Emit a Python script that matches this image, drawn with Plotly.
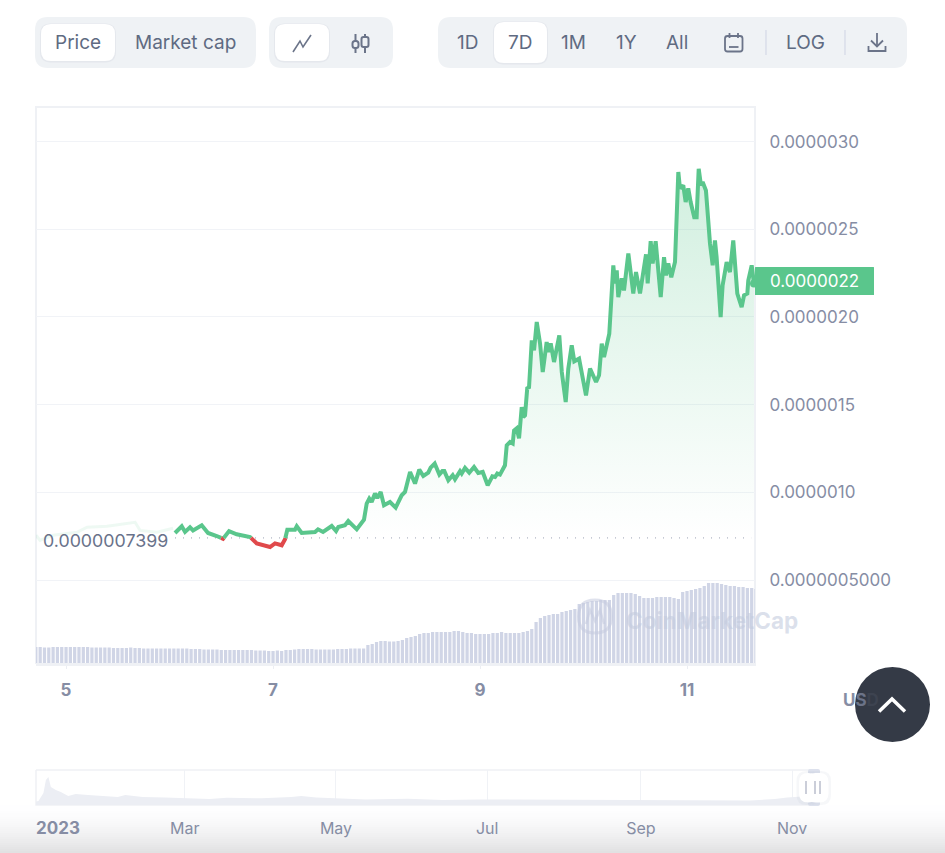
import pandas as pd
import plotly.graph_objects as go

W, H = 945, 853

# ---------- data ----------
faint_day = [4.71, 4.749, 4.797, 4.874, 5.106, 5.203, 5.396, 5.667, 5.715, 5.879, 6.034]
faint_price = [.755, .726, .738, .755, .772, .801, .806, .829, .783, .772, .795]

price_day = [6.053, 6.118, 6.150, 6.198, 6.227, 6.311, 6.372, 6.456, 6.517, 6.575, 6.649, 6.778, 6.843, 6.971, 7.019,
             7.084, 7.116, 7.138, 7.212, 7.229, 7.277, 7.406, 7.435, 7.483, 7.567, 7.609, 7.631, 7.695, 7.727, 7.809, 7.879,
             7.905, 7.930, 7.953, 7.985, 8.008, 8.040, 8.072, 8.130, 8.185, 8.243, 8.275, 8.324, 8.372, 8.413, 8.452,
             8.500, 8.523, 8.562, 8.607, 8.636, 8.655, 8.694, 8.736, 8.758, 8.807, 8.823, 8.855, 8.896, 8.942, 8.983,
             9.026, 9.074, 9.119, 9.145, 9.167, 9.193, 9.241, 9.258, 9.290, 9.316, 9.329,
             9.354, 9.377, 9.403, 9.418, 9.435, 9.457, 9.473, 9.500, 9.522, 9.548, 9.580, 9.606,
             9.644, 9.660, 9.683, 9.715, 9.766, 9.790, 9.828, 9.853, 9.886, 9.911, 9.957, 10.024, 10.063, 10.121, 10.150,
             10.176, 10.198, 10.249, 10.268, 10.288, 10.304, 10.321, 10.336, 10.369, 10.391, 10.433, 10.481, 10.507,
             10.546, 10.604, 10.620, 10.649, 10.668, 10.697, 10.746, 10.778, 10.797, 10.819, 10.848, 10.884, 10.916,
             10.932, 10.964, 10.987, 11.012, 11.035, 11.070, 11.093, 11.113, 11.135, 11.151, 11.183, 11.222, 11.248,
             11.270, 11.286, 11.325, 11.344, 11.383, 11.415, 11.447, 11.486, 11.528, 11.551, 11.583, 11.592, 11.625, 11.647]
price = [.768, .806, .774, .800, .783, .812, .768, .751, .735, .779, .761, .745, .708, .688, .709,
         .698, .732, .787, .787, .806, .768, .774, .789, .774, .808, .779, .802, .812, .836, .789, .844,
         .936, .964, .945, .993, .968, 1.002, .926, .945, .913, .983, 1.002, 1.116, 1.050, 1.129, 1.093,
         1.112, 1.141, 1.164, 1.101, 1.121, 1.121, 1.068, 1.097, 1.074, 1.121, 1.107, 1.139, 1.112, 1.144, 1.110,
         1.116, 1.040, 1.091, 1.087, 1.107, 1.101, 1.154, 1.268, 1.287, 1.278, 1.353,
         1.365, 1.308, 1.486, 1.429, 1.439, 1.600, 1.593, 1.866, 1.809, 1.971, 1.849, 1.686,
         1.857, 1.800, 1.849, 1.743, 1.895, 1.686, 1.515, 1.705, 1.838, 1.747, 1.762, 1.553, 1.705, 1.629, 1.667,
         1.848, 1.771, 1.905, 2.094, 2.294, 2.191, 2.265, 2.113, 2.220, 2.151, 2.362, 2.134, 2.256,
         2.134, 2.357, 2.191, 2.432, 2.305, 2.432, 2.113, 2.341, 2.237, 2.305, 2.226, 2.313, 2.826,
         2.733, 2.750, 2.655, 2.733, 2.655, 2.569, 2.569, 2.845, 2.750, 2.769, 2.721, 2.419, 2.294,
         2.436, 2.341, 1.999, 2.180, 2.313, 2.256, 2.436, 2.133, 2.056, 2.123, 2.134, 2.208, 2.294, 2.191]
baseline_price = 0.7399
last_price_label = "0.0000022"
baseline_label = "0.0000007399"

volume = [17, 17, 16.5, 16.5, 17, 17, 17, 17, 17, 17, 17, 17, 17, 16.5, 16.5, 16.5, 16.5, 16.5,
          16, 16, 16, 16, 16.5, 16, 16, 15.5, 15.5, 15.5, 15.5, 15.5, 15.5, 15.5, 15.5, 15.5, 15.5, 15.5, 15, 15, 15,
          14.5, 14.5, 14.5, 14.5, 14, 14, 14, 14, 14, 14, 14, 14, 13.5, 13.5, 13.5, 13, 13, 13.5, 13, 14, 14,
          14.5, 15, 15, 15, 15, 14.5, 14.5, 14.5, 14.5, 14.5, 15, 15, 15, 15.5, 15.5, 15.5, 15.5,
          19, 20, 22, 23, 23, 22.5, 22.5, 23, 24, 26, 27, 28, 30,
          31, 31, 32, 32, 32, 32, 32, 33, 33, 32, 31, 31,
          30, 30, 30, 30, 31, 31, 32, 31, 31, 31, 31, 32, 33, 35,
          42, 46, 48, 49, 50, 50, 52, 53, 54, 55,
          60, 61, 62, 63, 63, 64, 64, 64,
          69, 71, 71, 71, 71, 70, 68, 66,
          66, 66, 67, 67, 67, 67, 66, 65, 72,
          73, 74, 75, 76, 78, 81,
          81, 81, 80, 79, 78, 78, 77, 77, 76, 76, 75]

nav_date = ["2022-12-30", "2023-01-01", "2023-01-03", "2023-01-04", "2023-01-05", "2023-01-06", "2023-01-08",
            "2023-01-10", "2023-01-13", "2023-01-16", "2023-01-21", "2023-01-28", "2023-02-02", "2023-02-05",
            "2023-02-12", "2023-02-21", "2023-03-01", "2023-03-11", "2023-03-18", "2023-04-01", "2023-04-13",
            "2023-04-17", "2023-04-23", "2023-05-03", "2023-05-13", "2023-05-30", "2023-06-13", "2023-06-28",
            "2023-07-22", "2023-08-15", "2023-09-08", "2023-10-15", "2023-10-25", "2023-10-30", "2023-11-08"]
nav_value = [3, 4, 12, 25, 28, 18, 15, 13, 9, 11, 10, 9, 8, 10, 8, 7.5, 7, 6, 7.3, 6.7, 8, 9, 7.5, 6.7, 5.5, 6.2,
             5, 5.5, 5.4, 5, 4.7, 4.5, 6, 7.5, 9]

y_tick_values = [0.5, 1.0, 1.5, 2.0, 2.5, 3.0]
y_tick_labels = ["0.0000005000", "0.0000010", "0.0000015", "0.0000020", "0.0000025", "0.0000030"]
x_tick_dates = ["2023-11-05", "2023-11-07", "2023-11-09", "2023-11-11"]
x_tick_labels = ["5", "7", "9", "11"]
nav_tick_dates = ["2023-03-01", "2023-05-01", "2023-07-01", "2023-09-01", "2023-11-01"]
nav_tick_labels = ["Mar", "May", "Jul", "Sep", "Nov"]

# ---------- styles ----------
FONT = "Inter"
GREEN = "#5ac68c"
RED = "#e0494b"
PILL = "#eff2f5"
TXT = "#5f6b82"
AXTXT = "#868da4"


def ts(days):
    return [pd.Timestamp("2023-11-01") + pd.to_timedelta(d - 1, unit="D") for d in days]


def e6(vals):
    return [v * 1e-6 for v in vals]


# split into segments above / below baseline
segs = []
cur, cur_up = [], None
for d, p in zip(price_day, price):
    up = p >= baseline_price
    if cur_up is None or up == cur_up:
        cur.append((d, p))
    else:
        prev = cur[-1]
        f = (baseline_price - prev[1]) / (p - prev[1])
        cross = (prev[0] + f * (d - prev[0]), baseline_price)
        cur.append(cross)
        segs.append((cur_up, cur))
        cur = [cross, (d, p)]
    cur_up = up
segs.append((cur_up, cur))

fx = lambda px: px / W
fy = lambda py: 1 - py / H


def rr(x0, y0, x1, y1, r):
    X0, X1, Y0, Y1 = fx(x0), fx(x1), fy(y0), fy(y1)
    rx, ry = r / W, r / H
    return (f"M{X0 + rx},{Y0} L{X1 - rx},{Y0} Q{X1},{Y0} {X1},{Y0 - ry} L{X1},{Y1 + ry} Q{X1},{Y1} {X1 - rx},{Y1} "
            f"L{X0 + rx},{Y1} Q{X0},{Y1} {X0},{Y1 + ry} L{X0},{Y0 - ry} Q{X0},{Y0} {X0 + rx},{Y0} Z")


def poly(pts):
    return "M" + " L".join(f"{fx(a)},{fy(b)}" for a, b in pts)


shapes = []


def add_path(path, fill=None, line=None, lw=0, layer="below"):
    s = dict(type="path", path=path, xref="paper", yref="paper", layer=layer, line=dict(width=lw, color=line or "rgba(0,0,0,0)"))
    if fill:
        s["fillcolor"] = fill
    shapes.append(s)


# bottom shading
N = 24
for i in range(N):
    t = (i + 0.5) / N
    c = int(255 - 30 * t ** 1.6)
    y0 = 805 + 48 * i / N
    y1 = 805 + 48 * (i + 1) / N
    shapes.append(dict(type="rect", xref="paper", yref="paper", x0=0, x1=1, y0=fy(y0), y1=fy(y1), layer="below",
                       line=dict(width=0), fillcolor=f"rgb({c},{c},{c + 1 if c < 255 else c})"))

# button groups
for g in [(35, 17, 256, 68), (269, 17, 393, 68), (438, 17, 907, 68)]:
    add_path(rr(*g, 13), fill=PILL)
for b in [(41, 24, 115, 61), (275, 24, 329, 61), (494, 22, 547, 63)]:
    add_path(rr(b[0] - 1, b[1] - 0.5, b[2] + 1, b[3] + 1.5, 11), fill="rgba(200,205,215,0.25)")
    add_path(rr(*b, 10), fill="#ffffff")

# icons
add_path(poly([(293, 52), (300, 41), (303, 47), (311, 35)]), line="#6b7489", lw=1.6)
add_path(poly([(355.5, 34), (355.5, 41)]), line="#6b7489", lw=2)
add_path(poly([(355.5, 48), (355.5, 53)]), line="#6b7489", lw=2)
add_path(rr(352.5, 41, 358.5, 48, 2.5), line="#6b7489", lw=2)
add_path(poly([(365, 34), (365, 37)]), line="#6b7489", lw=2)
add_path(poly([(365, 47), (365, 53)]), line="#6b7489", lw=2)
add_path(rr(361.5, 37, 368.5, 47, 2), line="#6b7489", lw=2)
add_path(rr(725, 36, 742.5, 51.5, 2.5), line="#6b7489", lw=1.8)
add_path(poly([(729.5, 33), (729.5, 38)]), line="#6b7489", lw=1.8)
add_path(poly([(738, 33), (738, 38)]), line="#6b7489", lw=1.8)
add_path(poly([(729, 47), (738.5, 47)]), line="#6b7489", lw=1.8)
add_path(poly([(766, 30), (766, 55)]), line="#d3d8e6", lw=1.2)
add_path(poly([(845, 30), (845, 55)]), line="#d3d8e6", lw=1.2)
add_path(poly([(877, 33), (877, 46)]), line="#6b7489", lw=1.8)
add_path(poly([(871, 40.5), (877, 46.5), (883, 40.5)]), line="#6b7489", lw=1.8)
add_path(poly([(868.5, 46), (868.5, 51), (885.5, 51), (885.5, 46)]), line="#6b7489", lw=1.8)

# plot frame
add_path(poly([(36, 664), (36, 107), (755, 107), (755, 664)]), line="#eff1f5", lw=2)
add_path(poly([(36, 664.5), (756, 664.5)]), line="#eff1f5", lw=3, layer="above")

# price tag
add_path(rr(755, 267, 874, 295, 0.5), fill=GREEN, layer="above")

# watermark logo
wm = "rgba(196,203,222,0.55)"
add_path(rr(578.5, 600, 611.5, 633, 16.5), line=wm, lw=3, layer="above")
add_path(poly([(586, 624), (590, 610), (595, 621), (600, 610), (604, 624)]), line=wm, lw=2.5, layer="above")

# navigator frame and handle
add_path(poly([(36, 770), (812, 770), (812, 805), (36, 805), (36, 770)]), line="#eff1f5", lw=1.5)
add_path(rr(808, 769, 820, 806, 2), fill="#dde1ed", layer="above")
add_path(rr(796.5, 771, 819, 805, 10), fill="rgba(190,195,210,0.14)", layer="above")
add_path(rr(804, 771, 831, 805, 10), fill="rgba(190,195,210,0.14)", layer="above")
add_path(rr(799, 773, 817, 802.5, 9), fill="#ffffff", layer="above")
add_path(rr(806.5, 773, 828.5, 802.5, 9), fill="#ffffff", layer="above")
for lx in (806, 815, 820):
    add_path(poly([(lx, 781), (lx, 794)]), line="#a8aec0", lw=1.2, layer="above")

# back to top button
shapes.append(dict(type="circle", xref="paper", yref="paper", x0=fx(855), x1=fx(930), y0=fy(742), y1=fy(667),
                   fillcolor="#343a46", line=dict(width=0), layer="above"))
add_path(poly([(879, 711.5), (892, 699), (905, 711.5)]), line="#ffffff", lw=3.5, layer="above")

# ---------- traces ----------
fig = go.Figure()

fig.add_trace(go.Bar(x=pd.date_range("2023-11-04 17:00", periods=len(volume), freq="h"), y=volume,
                     marker=dict(color="#d0d5e6", line=dict(width=0)), xaxis="x", yaxis="y", hoverinfo="skip"))

# fill between baseline and price
fig.add_trace(go.Scatter(x=ts([price_day[0], price_day[-1]]), y=e6([baseline_price, baseline_price]), mode="lines",
                         line=dict(width=0), xaxis="x", yaxis="y2", hoverinfo="skip"))
fig.add_trace(go.Scatter(x=ts(price_day), y=e6(price), mode="lines", line=dict(width=0), xaxis="x", yaxis="y2",
                         fill="tonexty",
                         fillgradient=dict(type="vertical", start=0.74e-6, stop=2.85e-6,
                                           colorscale=[[0, "rgba(90,198,140,0)"], [1, "rgba(90,198,140,0.28)"]]),
                         hoverinfo="skip"))
# baseline dots
fig.add_trace(go.Scatter(x=ts([price_day[0], 11.62]), y=e6([baseline_price, baseline_price]), mode="lines",
                         line=dict(color="#9aa1b3", width=1, dash="1px,7px"), xaxis="x", yaxis="y2", hoverinfo="skip"))
# faint left part
fig.add_trace(go.Scatter(x=ts(faint_day), y=e6(faint_price), mode="lines",
                         line=dict(color="rgba(90,198,140,0.10)", width=3), xaxis="x", yaxis="y2", hoverinfo="skip"))
for up, seg in segs:
    fig.add_trace(go.Scatter(x=ts([s[0] for s in seg]), y=e6([s[1] for s in seg]), mode="lines",
                             line=dict(color=GREEN if up else RED, width=4, simplify=False), xaxis="x", yaxis="y2",
                             hoverinfo="skip"))
# last point dot
fig.add_trace(go.Scatter(x=ts([price_day[-1]]), y=e6([price[-1]]), mode="markers", marker=dict(color=GREEN, size=8),
                         xaxis="x", yaxis="y2", hoverinfo="skip", cliponaxis=False))

fig.add_trace(go.Scatter(x=nav_date, y=nav_value, mode="lines", line=dict(width=0), fill="tozeroy",
                         fillcolor="#eceef4", xaxis="x3", yaxis="y3", hoverinfo="skip"))


# ---------- annotations ----------
def txt(px, py, s, size=19, color=TXT, anchor="center", weight=None, **kw):
    f = dict(family=FONT, size=size, color=color)
    if weight:
        f["weight"] = weight
    return dict(x=fx(px), y=fy(py), xref="paper", yref="paper", text=s, showarrow=False, xanchor=anchor,
                yanchor="middle", font=f, **kw)


ann = [
    txt(78, 42.5, "Price"), txt(185.5, 42.5, "Market cap"),
    txt(467.5, 43, "1D"), txt(519.5, 43, "7D"), txt(573, 43, "1M"), txt(626, 43, "1Y"), txt(676.5, 43, "All"),
    txt(805, 42.5, "LOG"),
    txt(41, 540, baseline_label, size=17.8, color="#69728a", anchor="left"),
    txt(768, 281.5, last_price_label, size=17, color="#ffffff", anchor="left"),
    txt(624, 620, "CoinMarketCap", size=22.5, color="rgba(196,203,222,0.6)", anchor="left", weight=700),
    txt(841, 700, '<span style="color:#868da4">U</span><span style="color:#6b7388">S</span>'
                  '<span style="color:#3d4350">D</span>', size=17, anchor="left", weight=700),
    txt(34, 828, "2023", size=17, color=AXTXT, anchor="left", weight=700),
]

# ---------- layout ----------
fig.update_layout(
    width=W, height=H, autosize=False, margin=dict(l=0, r=0, t=0, b=0),
    paper_bgcolor="#ffffff", plot_bgcolor="rgba(0,0,0,0)", showlegend=False, bargap=0.25,
    font=dict(family=FONT),
    shapes=shapes, annotations=ann,
    xaxis=dict(domain=[fx(36), fx(755)], range=["2023-11-04 17:02", "2023-11-11 15:46"], type="date",
               tickmode="array", tickvals=x_tick_dates, ticktext=x_tick_labels, showgrid=False, zeroline=False,
               ticks="outside", ticklen=4, tickcolor="#eceef3", ticklabelstandoff=7, anchor="y", showline=False,
               tickfont=dict(family=FONT, size=17, color=AXTXT, weight=700)),
    yaxis=dict(domain=[fy(664), fy(107)], range=[0, 557], visible=False, fixedrange=True),
    yaxis2=dict(domain=[fy(664), fy(107)], range=[0.0211e-6, 3.197e-6], overlaying="y", side="right", anchor="x",
                tickmode="array", tickvals=e6(y_tick_values), ticktext=y_tick_labels, showgrid=True,
                gridcolor="#f1f3f7", gridwidth=1, zeroline=False, ticks="outside", ticklen=10,
                tickcolor="rgba(0,0,0,0)", showline=False, tickfont=dict(family=FONT, size=17, color=AXTXT)),
    xaxis3=dict(domain=[fx(36), fx(812)], range=["2022-12-31", "2023-11-09"], type="date", anchor="y3",
                tickmode="array", tickvals=nav_tick_dates, ticktext=nav_tick_labels, showgrid=True,
                gridcolor="#f0f2f6", zeroline=False, ticks="outside", ticklen=9, tickcolor="rgba(0,0,0,0)",
                tickfont=dict(family=FONT, size=16, color=AXTXT)),
    yaxis3=dict(domain=[fy(805), fy(770)], range=[0, 35], visible=False),
)

fig.write_html("out.html", config=dict(displayModeBar=False),
               post_script="document.body.style.margin='0';document.documentElement.style.overflow='hidden';")
